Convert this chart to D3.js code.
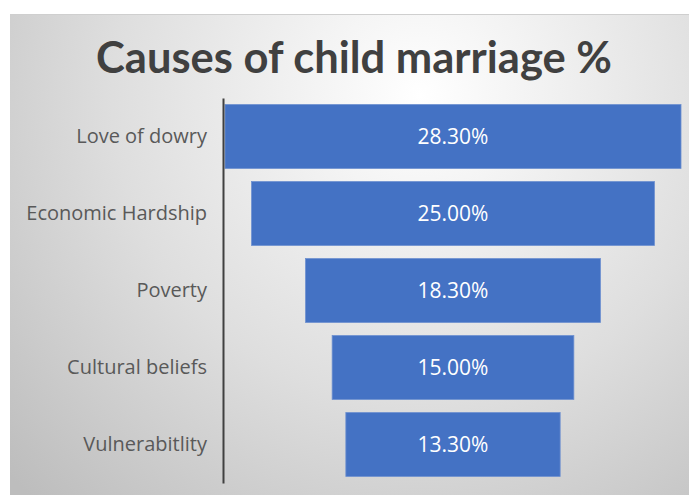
<!DOCTYPE html>
<html>
<head>
<meta charset="utf-8">
<script src="https://cdn.jsdelivr.net/npm/d3@7"></script>
<style>
  html, body { margin: 0; padding: 0; background: #ffffff; }
  svg { display: block; }
</style>
</head>
<body>
<svg id="chart" width="689" height="495"></svg>
<script>
// Causes of child marriage (% of respondents)
const categories = ["Love of dowry", "Economic Hardship", "Poverty", "Cultural beliefs", "Vulnerabitlity"];
const values = [28.3, 25.0, 18.3, 15.0, 13.3];
const valueLabels = ["28.30%", "25.00%", "18.30%", "15.00%", "13.30%"];
const title = "Causes of child marriage %";

const W = 689, H = 495;
const svg = d3.select("#chart");

// panel background with a soft radial grey gradient
const defs = svg.append("defs");
const grad = defs.append("radialGradient")
  .attr("id", "bg")
  .attr("gradientUnits", "userSpaceOnUse")
  .attr("cx", 420).attr("cy", 95).attr("r", 560);
grad.append("stop").attr("offset", "0").attr("stop-color", "#ffffff");
grad.append("stop").attr("offset", "0.55").attr("stop-color", "#dedede");
grad.append("stop").attr("offset", "1").attr("stop-color", "#bdbdbd");

svg.append("rect")
  .attr("x", 10).attr("y", 14).attr("width", W - 10).attr("height", H - 14)
  .attr("fill", "url(#bg)");
svg.append("line")
  .attr("x1", 10).attr("x2", W).attr("y1", 14.5).attr("y2", 14.5)
  .attr("stroke", "#cfcfcf").attr("stroke-width", 1);

// title
svg.append("text")
  .attr("x", 354).attr("y", 73)
  .attr("text-anchor", "middle")
  .attr("font-family", "Lato, 'Open Sans', sans-serif")
  .attr("font-weight", "bold")
  .attr("font-size", 43.5)
  .attr("fill", "#404040")
  .text(title);

// scales
const axisX = 223;
const centerX = 453;
const x = d3.scaleLinear().domain([0, d3.max(values)]).range([0, 456]);
const y = d3.scaleBand().domain(categories).range([98, 483])
  .paddingInner(0.17).paddingOuter(0.085);

// funnel bars, centred on one vertical line
svg.append("g").selectAll("rect")
  .data(categories)
  .join("rect")
  .attr("x", (d, i) => centerX - x(values[i]) / 2)
  .attr("y", d => y(d))
  .attr("width", (d, i) => x(values[i]))
  .attr("height", y.bandwidth())
  .attr("fill", "#4472c4")
  .attr("stroke", "#6d90d0")
  .attr("stroke-width", 0.8);

// value labels
svg.append("g").selectAll("text")
  .data(categories)
  .join("text")
  .attr("x", centerX)
  .attr("y", d => y(d) + y.bandwidth() / 2)
  .attr("dy", "0.35em")
  .attr("text-anchor", "middle")
  .attr("font-family", "'Open Sans', sans-serif")
  .attr("font-size", 21)
  .attr("fill", "#ffffff")
  .text((d, i) => valueLabels[i]);

// category axis
const axis = svg.append("g")
  .attr("transform", `translate(${axisX},0)`)
  .call(d3.axisLeft(y).tickSize(0).tickPadding(16));
axis.select(".domain").attr("stroke", "#404040").attr("stroke-width", 2);
axis.selectAll("text")
  .attr("font-family", "'Open Sans', sans-serif")
  .attr("font-size", 20)
  .attr("fill", "#595959");
</script>
</body>
</html>
